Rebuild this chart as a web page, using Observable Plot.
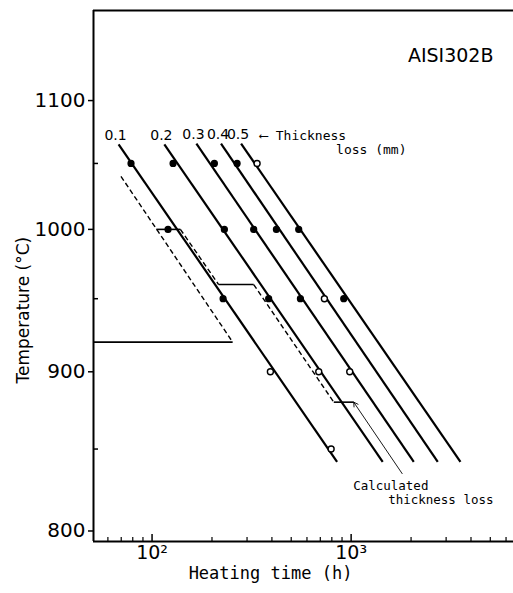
<!DOCTYPE html>
<html><head><meta charset="utf-8">
<script src="https://cdn.jsdelivr.net/npm/d3@7"></script>
<script src="https://cdn.jsdelivr.net/npm/@observablehq/plot@0.6"></script>
<style>body{margin:0;background:#fff} svg{display:block}</style>
</head><body><div id="chart"></div>
<script>
// Iso thickness-loss lines (mm): start and end points (hours, °C)
const lossLevels      = ["0.1", "0.2", "0.3", "0.4", "0.5"];
const lineStartHours  = [67.9, 115.3, 167, 222, 280];
const lineStartTemps  = [1065, 1065, 1065.5, 1065.5, 1065.5];
const lineEndHours    = [850, 1441, 2064, 2724, 3541];
const lineEndTemps    = [842, 842, 842, 842, 842];

// Measured points
const pointHours  = [78.4, 127.5, 205.6, 267.4, 337,
                     120.3, 230.8, 324, 421.3, 545.4,
                     227.4, 385.3, 556.2, 734, 918,
                     393, 687.6, 984,
                     793.4];
const pointTemps  = [1050, 1050, 1050, 1050, 1050,
                     1000, 1000, 1000, 1000, 1000,
                     950, 950, 950, 950, 950,
                     900, 900, 900,
                     850];
const pointFilled = [true, true, true, true, false,
                     true, true, true, true, true,
                     true, true, true, false, true,
                     false, false, false,
                     false];

// Calculated thickness loss (0.1 mm, constant temperature)
const calcHours = [69.8, 254];
const calcTemps = [1040, 920];
// Holding line at 920 °C
const holdHours = [50.8, 254];
const holdTemps = [920, 920];
// Stepped calculated curve
const stepHours = [105, 138.8, 216, 324, 818, 1030];
const stepTemps = [1000, 1000, 960, 960, 880, 880];
// Arrow from annotation to the curve
const arrowHours = [1804, 1030];
const arrowTemps = [834.7, 880];

// Axis ticks
const yTicks = [800, 900, 1000, 1100];
const yMinor = [850, 950, 1050];
const xTicks = [100, 1000];
const xTickLabels = ["10²", "10³"];
const xMinor = [60, 70, 80, 90, 200, 300, 400, 500, 600, 700, 800, 900, 2000, 3000, 4000, 5000, 6000];
const yLabelTemp = 942;

const xDomain = [50.8, 6540];
const yDomain = [793.8, 1175.8];

const lines = lossLevels.map((k, i) => ({k, x1: lineStartHours[i], y1: lineStartTemps[i], x2: lineEndHours[i], y2: lineEndTemps[i]}));
const points = pointHours.map((h, i) => ({h, t: pointTemps[i], filled: pointFilled[i]}));
const steps = stepHours.slice(0, -1).map((h, i) => ({x1: h, y1: stepTemps[i], x2: stepHours[i + 1], y2: stepTemps[i + 1], dashed: i % 2 === 1}));
const calc = [{x1: calcHours[0], y1: calcTemps[0], x2: calcHours[1], y2: calcTemps[1]}];
const hold = [{x1: holdHours[0], y1: holdTemps[0], x2: holdHours[1], y2: holdTemps[1]}];
const arrow = [{x1: arrowHours[0], y1: arrowTemps[0], x2: arrowHours[1], y2: arrowTemps[1]}];
const last = lines[lines.length - 1];

const mono = "DejaVu Sans Mono";

const chart = Plot.plot({
  width: 513, height: 593,
  marginTop: 10, marginBottom: 52, marginLeft: 93, marginRight: 0,
  style: {background: "#fff", color: "#000", fontFamily: "DejaVu Sans"},
  x: {type: "log", domain: xDomain},
  y: {type: "log", domain: yDomain},
  marks: [
    // frame
    Plot.ruleY([yDomain[1]], {strokeWidth: 2}),
    Plot.ruleY([yDomain[0]], {strokeWidth: 2}),
    Plot.ruleX([xDomain[0]], {strokeWidth: 2}),
    // axes
    Plot.axisY(yTicks, {tickSize: 5, tickPadding: 3, fontSize: 20, tickFormat: d => String(d), label: null, strokeWidth: 1.5}),
    Plot.axisY(yMinor, {tickSize: -5, tickFormat: () => "", label: null, strokeWidth: 1.5}),
    Plot.axisX(xTicks, {tickSize: -7, tickFormat: () => "", label: null, strokeWidth: 1.5}),
    Plot.axisX(xMinor, {tickSize: -4, tickFormat: () => "", label: null, strokeWidth: 1.2}),
    Plot.text(xTicks, {x: d => d, text: d => xTickLabels[xTicks.indexOf(d)], frameAnchor: "bottom", dy: 17, fontSize: 19}),
    Plot.text(["Temperature (°C)"], {y: () => yLabelTemp, frameAnchor: "left", textAnchor: "middle", rotate: -90, dx: -70, fontSize: 17}),
    Plot.text(["Heating time (h)"], {frameAnchor: "bottom", textAnchor: "middle", dx: -33, dy: 37, fontSize: 17, fontFamily: mono}),
    Plot.text(["AISI302B"], {frameAnchor: "top-right", textAnchor: "end", dx: -20, dy: 38, fontSize: 19}),
    // iso lines
    Plot.link(lines, {x1: "x1", y1: "y1", x2: "x2", y2: "y2", strokeWidth: 2.2}),
    Plot.text(lines, {x: "x1", y: "y1", text: "k", dx: -3, dy: -9, fontSize: 14}),
    Plot.text([last], {x: "x1", y: "y1", text: () => "⟵ Thickness", textAnchor: "start", dx: 19, dy: -8, fontSize: 13, fontFamily: mono}),
    Plot.text([last], {x: "x1", y: "y1", text: () => "loss (mm)", textAnchor: "start", dx: 95, dy: 6, fontSize: 13, fontFamily: mono}),
    // calculated curves
    Plot.link(calc, {x1: "x1", y1: "y1", x2: "x2", y2: "y2", strokeWidth: 1.4, strokeDasharray: "5,3"}),
    Plot.link(hold, {x1: "x1", y1: "y1", x2: "x2", y2: "y2", strokeWidth: 1.6}),
    Plot.link(steps.filter(d => !d.dashed), {x1: "x1", y1: "y1", x2: "x2", y2: "y2", strokeWidth: 1.6}),
    Plot.link(steps.filter(d => d.dashed), {x1: "x1", y1: "y1", x2: "x2", y2: "y2", strokeWidth: 1.4, strokeDasharray: "5,3"}),
    Plot.arrow(arrow, {x1: "x1", y1: "y1", x2: "x2", y2: "y2", strokeWidth: 0.9, headLength: 8, bend: 0}),
    Plot.text(arrow, {x: "x1", y: "y1", text: () => "Calculated", textAnchor: "start", dx: -49, dy: 12, fontSize: 12.5, fontFamily: mono}),
    Plot.text(arrow, {x: "x1", y: "y1", text: () => "thickness loss", textAnchor: "start", dx: -14, dy: 26, fontSize: 12.5, fontFamily: mono}),
    // points
    Plot.dot(points.filter(d => d.filled), {x: "h", y: "t", r: 3, fill: "black", stroke: "black", strokeWidth: 1.2}),
    Plot.dot(points.filter(d => !d.filled), {x: "h", y: "t", r: 3, fill: "white", stroke: "black", strokeWidth: 1.4})
  ]
});
document.getElementById("chart").appendChild(chart);
</script>
</body></html>
